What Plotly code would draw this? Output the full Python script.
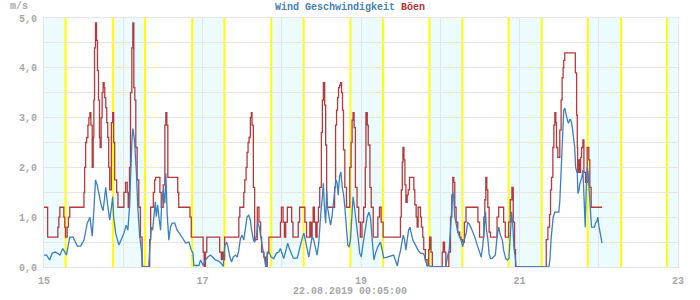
import pandas as pd
import plotly.graph_objects as go

# ---- data (hours since 15.08.2019 00:00, m/s) ----
gust_hours = [0.0, 0.8, 1.1, 4.0, 4.2, 4.5, 4.8, 5.7, 6.0, 6.3, 6.5, 7.0, 7.4, 7.8, 11.8, 12.1, 12.3, 12.6, 12.9,
              13.3, 13.6, 13.9, 14.2, 14.6, 14.9, 15.1, 15.3, 15.6, 15.9, 16.2, 16.5, 16.8, 17.0, 17.3, 17.6, 17.9,
              18.2, 18.4, 18.7, 19.0, 19.3, 19.6, 19.9, 20.4, 20.8, 21.1, 21.4, 22.0, 22.4, 24.0, 24.2, 24.7, 25.2,
              25.5, 25.9, 26.2, 26.6, 26.9, 27.2, 27.5, 27.8, 28.2, 28.7, 29.2, 29.7, 31.7, 32.0, 32.3, 32.8, 33.1,
              33.5, 33.8, 34.8, 35.1, 35.5, 36.1, 36.6, 36.9, 37.2, 37.5, 40.3, 40.5, 40.8, 43.9, 44.2, 44.6, 47.9,
              48.2, 48.5, 48.9, 49.3, 52.9, 53.2, 53.7, 54.0, 54.3, 54.7, 58.5, 59.0, 59.3, 60.0, 60.5, 60.8, 61.2,
              61.5, 61.8, 62.1, 62.5, 62.8, 63.0, 63.4, 63.8, 64.2, 64.6, 65.1, 65.6, 65.9, 66.6, 67.1, 67.6, 68.1,
              71.4, 71.6, 71.9, 72.4, 72.8, 73.2, 73.7, 74.7, 75.0, 75.4, 76.7, 77.0, 77.4, 78.7, 79.0, 79.5, 80.2,
              80.5, 80.9, 81.2, 81.5, 81.9, 82.3, 82.7, 83.1, 83.5, 84.0, 84.3, 84.6, 85.0, 85.3, 85.6, 87.6, 88.0,
              88.3, 88.6, 88.9, 89.2, 89.5, 89.8, 90.1, 90.4, 90.7, 91.1, 91.6, 92.2, 92.6, 93.0, 93.3, 93.6, 93.9,
              94.3, 94.8, 95.3, 95.8, 96.3, 96.8, 97.3, 97.5, 97.9, 98.2, 98.7, 99.1, 99.7, 100.9, 101.1, 101.6,
              102.1, 102.7, 107.8, 107.95, 108.2, 108.5, 108.7, 109.0, 109.3, 109.6, 110.0, 110.3, 110.7, 111.7,
              112.0, 112.3, 112.7, 113.0, 113.3, 113.7, 114.0, 114.3, 114.7, 115.0, 115.5, 116.0, 116.5, 116.8,
              117.2, 117.6, 120.3, 120.6, 120.9, 121.3, 121.7, 122.6, 123.1, 123.5, 123.8, 124.1, 124.4, 124.8,
              125.3, 125.9, 126.3, 126.8, 127.3, 127.8, 131.0, 131.4, 131.9, 132.7, 133.2, 133.5, 133.8, 134.1,
              134.4, 134.8, 135.2, 136.7, 137.2, 137.7, 138.7, 139.2, 139.7, 140.2, 140.7, 141.2, 141.7, 142.1,
              142.5, 142.8, 151.6, 152.1, 152.6, 153.1, 153.4, 153.7, 154.1, 154.4, 154.7, 155.0, 155.2, 155.6,
              156.2, 156.6, 156.9, 157.2, 157.4, 157.7, 160.7, 160.9, 161.3, 161.5, 161.6, 161.9, 162.2, 162.5,
              162.8, 163.2, 163.5, 164.0, 164.5, 165.0, 165.3, 165.7, 169.0]
gust_values = [1.2, 1.2, 0.6, 0.6, 0.8, 1.0, 1.2, 1.2, 1.0, 0.8, 0.6, 0.8, 1.0, 1.2, 1.2, 1.5, 2.0, 2.5, 2.6,
               2.85, 3.0, 3.1, 2.85, 2.0, 2.6, 3.35, 4.4, 4.9, 4.55, 3.95, 3.35, 2.6, 2.4, 3.0, 3.5, 3.7,
               3.6, 3.4, 3.2, 2.9, 2.6, 2.0, 1.55, 2.9, 3.1, 2.5, 1.75, 1.5, 1.2, 1.2, 1.5, 1.7, 1.5,
               1.2, 2.0, 3.5, 4.4, 4.9, 3.6, 3.35, 2.4, 1.75, 1.2, 0.6, 0.0, 0.0, 0.55, 1.2, 1.2, 1.5,
               1.75, 1.8, 1.8, 1.5, 1.2, 1.65, 2.85, 3.1, 2.85, 1.8, 1.8, 1.5, 1.2, 1.2, 1.0, 0.6, 0.6,
               0.3, 0.0, 0.3, 0.6, 0.6, 0.3, 0.15, 0.3, 0.15, 0.6, 0.6, 1.0, 1.2, 1.2, 1.5, 1.75, 2.0,
               2.3, 2.5, 2.6, 3.0, 3.1, 2.85, 1.6, 0.55, 0.55, 1.2, 0.9, 0.6, 0.3, 0.2, 0.0, 0.3, 0.6,
               0.6, 0.9, 1.2, 0.9, 0.6, 0.9, 1.2, 1.2, 0.9, 0.6, 0.6, 0.9, 1.2, 1.2, 0.9, 0.6, 0.6,
               0.9, 0.6, 0.9, 1.2, 0.9, 0.6, 0.9, 1.2, 1.6, 2.7, 3.35, 3.7, 3.25, 2.45, 1.2, 1.2, 1.6,
               2.85, 3.15, 3.4, 3.6, 3.65, 3.7, 3.5, 3.15, 2.35, 1.6, 1.2, 1.2, 2.0, 2.5, 2.95, 3.1, 2.8,
               1.6, 1.2, 0.9, 0.6, 0.9, 1.2, 2.0, 3.1, 2.85, 2.45, 1.6, 1.2, 0.6, 0.6, 1.0, 1.2,
               0.9, 0.6, 0.6, 1.0, 1.55, 2.1, 2.4, 2.15, 1.65, 1.3, 1.45, 1.55, 1.8, 1.8,
               1.55, 1.25, 1.0, 0.8, 1.2, 1.2, 1.0, 0.8, 0.6, 0.35, 0.15, 0.03, 0.35, 0.6,
               0.3, 0.0, 0.0, 0.3, 0.5, 0.3, 0.0, 0.3, 1.0, 1.45, 1.8, 1.7, 1.2, 0.9,
               0.7, 0.6, 0.55, 0.5, 0.9, 1.2, 1.2, 0.9, 0.6, 0.6, 1.0, 1.35, 1.8, 1.55,
               1.2, 0.7, 0.6, 0.6, 1.0, 1.2, 1.2, 0.9, 0.6, 0.6, 0.9, 1.35, 1.6, 0.9,
               0.35, 0.0, 0.0, 0.55, 0.8, 1.05, 1.55, 1.8, 2.4, 2.85, 3.1, 2.9, 2.4, 2.2,
               2.75, 3.35, 3.8, 4.0, 4.15, 4.3, 4.3, 3.9, 3.05, 2.4, 1.9, 2.15, 1.9, 2.2,
               2.4, 2.55, 1.9, 1.7, 2.4, 2.15, 1.6, 1.2, 1.2]

wind_hours = [0.0, 0.8, 1.7, 2.5, 3.5, 4.8, 5.7, 6.8, 7.8, 8.8, 10.1, 11.1, 12.1, 13.1, 13.9, 14.6, 15.1, 15.6,
              16.1, 16.6, 17.3, 17.9, 18.3, 18.7, 19.1, 19.6, 19.9, 20.4, 20.8, 21.1, 21.7, 22.7, 23.4, 24.2,
              24.9, 25.4, 25.9, 26.2, 26.6, 26.9, 27.4, 28.0, 28.4, 29.0, 29.5, 29.9, 31.7, 32.0, 32.5, 32.9,
              33.3, 33.7, 34.0, 34.4, 34.8, 35.3, 35.6, 36.1, 36.6, 36.9, 37.3, 37.8, 38.3, 38.8, 39.6, 40.3,
              41.0, 41.9, 42.9, 43.9, 44.6, 45.1, 45.4, 46.9, 47.4, 48.2, 48.9, 49.6, 50.4, 51.2, 51.9, 52.9,
              53.7, 54.3, 54.7, 55.3, 55.7, 56.3, 56.8, 57.3, 58.0, 58.5, 59.0, 59.5, 60.0, 60.5, 61.0, 61.5,
              62.0, 62.5, 62.8, 63.4, 63.8, 64.4, 64.7, 65.2, 65.8, 66.3, 66.8, 67.2, 67.6, 68.1, 68.8, 69.6,
              70.4, 71.1, 71.6, 72.1, 72.6, 73.3, 73.8, 74.3, 74.9, 75.5, 76.7, 77.5, 78.2, 78.7, 79.2, 79.7,
              80.2, 80.7, 81.2, 81.7, 82.2, 82.7, 83.2, 83.5, 83.9, 84.3, 84.6, 84.9, 85.3, 85.6, 85.9, 86.4,
              86.8, 87.2, 87.6, 88.0, 88.4, 88.8, 89.1, 89.5, 89.9, 90.3, 90.7, 91.1, 91.6, 92.0, 92.4, 92.8,
              93.3, 93.6, 94.0, 94.4, 94.8, 95.2, 95.6, 96.1, 96.5, 96.8, 97.4, 97.9, 98.4, 98.9, 99.4, 99.9,
              100.4, 101.1, 101.9, 102.4, 102.9, 103.9, 104.9, 105.9, 106.4, 107.0, 107.4, 108.0, 108.5, 108.8,
              109.2, 109.6, 110.0, 110.4, 110.8, 111.2, 111.7, 112.2, 112.7, 113.3, 114.0, 115.0, 115.5, 116.1,
              116.5, 117.0, 117.6, 121.6, 121.9, 122.3, 122.7, 123.1, 123.5, 123.8, 124.1, 124.4, 124.8, 125.3,
              125.8, 126.3, 126.8, 127.3, 127.9, 128.3, 128.9, 129.4, 129.9, 130.4, 130.9, 131.4, 131.9, 132.4,
              132.9, 133.4, 133.7, 134.0, 134.4, 134.8, 135.2, 135.7, 136.2, 136.7, 137.2, 137.7, 138.2, 138.8,
              139.2, 139.8, 140.3, 140.8, 141.3, 141.6, 142.0, 142.3, 142.7, 143.0, 152.9, 153.2, 153.6, 153.9,
              154.2, 154.7, 155.9, 156.2, 156.5, 156.8, 157.1, 157.4, 157.7, 158.0, 158.3, 158.6, 158.9, 159.2,
              159.5, 159.8, 160.1, 160.4, 160.7, 161.0, 161.5, 161.7, 162.0, 162.3, 162.6, 162.9, 163.2, 163.5,
              163.7, 163.9, 164.2, 164.5, 164.8, 165.1, 165.5, 165.8, 166.7, 167.0, 167.4, 167.7, 168.0, 168.3,
              168.5, 168.8, 169.0]
wind_values = [0.24, 0.24, 0.14, 0.28, 0.3, 0.24, 0.37, 0.24, 0.6, 0.6, 0.42, 0.42, 0.54, 0.88, 1.0, 0.62, 1.14, 1.75,
               1.65, 1.45, 1.25, 1.13, 1.38, 1.6, 1.34, 1.0, 0.94, 1.18, 1.41, 1.0, 0.68, 0.44, 0.54, 0.68,
               0.84, 0.74, 1.21, 1.88, 2.5, 2.78, 2.55, 1.88, 1.21, 0.61, 0.34, 0.0, 0.0, 0.34, 0.8, 0.74,
               1.08, 1.31, 1.01, 1.25, 1.01, 0.74, 1.21, 1.54, 1.28, 1.88, 1.08, 0.54, 0.8, 0.88, 0.88, 0.74,
               0.68, 0.58, 0.48, 0.5, 0.34, 0.28, 0.03, 0.03, 0.14, 0.03, 0.14, 0.2, 0.24, 0.19, 0.14, 0.12,
               0.07, 0.01, 0.41, 0.5, 0.41, 0.2, 0.1, 0.2, 0.24, 0.2, 0.34, 0.58, 0.64, 0.54, 0.8, 1.01,
               1.04, 0.94, 0.77, 0.54, 0.5, 0.64, 0.9, 0.8, 0.54, 0.34, 0.14, 0.0, 0.24, 0.3, 0.2, 0.17,
               0.28, 0.3, 0.37, 0.28, 0.17, 0.34, 0.48, 0.37, 0.28, 0.18, 0.18, 0.41, 0.58, 0.68, 0.54, 0.34,
               0.2, 0.41, 0.61, 0.54, 0.41, 0.24, 0.48, 0.88, 1.14, 1.41, 1.68, 1.21, 0.88, 1.54, 1.18, 0.98,
               0.84, 1.0, 1.21, 1.47, 1.75, 1.68, 1.44, 1.81, 1.91, 1.61, 1.47, 1.21, 0.74, 0.44, 0.4, 0.54,
               1.08, 1.41, 1.21, 1.01, 0.74, 0.54, 0.28, 0.2, 0.41, 0.54, 0.8, 1.01, 1.1, 0.98, 0.54, 0.14,
               0.28, 0.41, 0.5, 0.34, 0.18, 0.2, 0.22, 0.24, 0.14, 0.02, 0.18, 0.34, 0.54, 0.64,
               0.54, 0.34, 0.54, 0.74, 0.8, 0.68, 0.54, 0.48, 0.41, 0.34, 0.28, 0.27, 0.14, 0.02,
               0.03, 0.02, 0.0, 0.0, 0.14, 0.24, 0.34, 0.74, 1.21, 1.5, 1.38, 1.0, 0.88, 0.7,
               0.61, 0.54, 0.41, 0.54, 0.7, 0.9, 0.85, 0.78, 0.7, 0.61, 0.5, 0.41, 0.3, 0.2,
               0.44, 0.8, 1.11, 0.74, 0.57, 0.27, 0.17, 0.17, 0.2, 0.24, 0.61, 0.8, 0.64, 0.54,
               0.34, 0.17, 0.14, 0.17, 0.74, 1.11, 0.8, 0.41, 0.2, 0.0, 0.0, 0.14, 0.59, 0.8,
               1.0, 1.1, 1.1, 1.31, 1.8, 2.27, 2.82, 3.15, 3.19, 3.09, 3.02, 2.92, 2.89, 2.96,
               2.96, 2.89, 2.75, 2.62, 2.41, 2.0, 1.88, 1.47, 1.54, 1.68, 1.75, 1.81, 1.95, 1.35,
               1.01, 0.8, 1.54, 2.0, 1.88, 1.61, 1.21, 0.8, 0.8, 0.88, 0.91, 1.0, 0.84, 0.74,
               0.64, 0.54, 0.48]

sunrise = ["06:33", "06:35", "06:37", "06:38", "06:40", "06:42", "06:44", "06:46"]
sunset = ["20:54", "20:52", "20:49", "20:47", "20:44", "20:42", "20:40", "20:37"]

day_ticks = ["15", "", "17", "", "19", "", "21", "", "23"]
y_tickvals = [0, 0.5, 1, 1.5, 2, 2.5, 3, 3.5, 4, 4.5, 5]
y_ticktext = ["0,0", "", "1,0", "", "2,0", "", "3,0", "", "4,0", "", "5,0"]
timestamp_text = "22.08.2019 00:05:00"

# ---- build ----
start = pd.Timestamp("2019-08-15")
end = start + pd.Timedelta(days=8)
gx = start + pd.to_timedelta(gust_hours, unit="h")
wx = start + pd.to_timedelta(wind_hours, unit="h")

BLUE = "#3a7fc1"
RED = "#b43a3c"
GRID = "#e6e6e6"
LABEL = "#a8a8a8"
FONT = "Liberation Mono"

fig = go.Figure()
fig.add_trace(go.Scatter(x=gx, y=gust_values, mode="lines", line=dict(color=RED, width=1.3, shape="hv"),
                         name="Böen", hoverinfo="skip"))
fig.add_trace(go.Scatter(x=wx, y=wind_values, mode="lines", line=dict(color=BLUE, width=1.3),
                         name="Wind Geschwindigkeit", hoverinfo="skip"))

shapes = []
days = [start + pd.Timedelta(days=i) for i in range(8)]
# night shading
night_edges = [start]
for i, d in enumerate(days):
    sr = d + pd.Timedelta(sunrise[i] + ":00")
    ss = d + pd.Timedelta(sunset[i] + ":00")
    shapes.append(dict(type="rect", xref="x", yref="paper", x0=night_edges[-1], x1=sr, y0=0, y1=1,
                       fillcolor="#ecfbfe", line=dict(width=0), layer="below"))
    night_edges.append(ss)
shapes.append(dict(type="rect", xref="x", yref="paper", x0=night_edges[-1], x1=end, y0=0, y1=1,
                   fillcolor="#ecfbfe", line=dict(width=0), layer="below"))
for i, d in enumerate(days):
    for t in (sunrise[i], sunset[i]):
        xx = d + pd.Timedelta(t + ":00")
        shapes.append(dict(type="line", xref="x", yref="paper", x0=xx, x1=xx, y0=0, y1=1,
                           line=dict(color="#ffff00", width=2), layer="between"))

fig.update_layout(
    width=700, height=300,
    margin=dict(l=44, r=22, t=18, b=33),
    paper_bgcolor="white", plot_bgcolor="white",
    showlegend=False,
    shapes=shapes,
    font=dict(family=FONT, size=10, color=LABEL, weight="bold"),
    title=dict(
        text=f"<span style='color:{'#4682b4'}'>Wind Geschwindigkeit</span> "
             f"<span style='color:{'#b03434'}'>Böen</span>",
        x=0.5, xref="container", xanchor="center",
        y=0.98, yref="container", yanchor="middle",
        font=dict(family=FONT, size=10, weight="bold"),
    ),
    xaxis=dict(
        type="date", range=[start, end],
        tickvals=[start + pd.Timedelta(days=i) for i in range(9)], ticktext=day_ticks,
        showgrid=True, gridcolor=GRID, gridwidth=1,
        showline=True, linecolor=GRID, mirror=True, zeroline=False,
        ticks="outside", ticklen=4, tickcolor="rgba(0,0,0,0)",
        tickfont=dict(family=FONT, size=10, color=LABEL, weight="bold"),
    ),
    yaxis=dict(
        range=[0, 5], tickvals=y_tickvals, ticktext=y_ticktext,
        showgrid=True, gridcolor=GRID, gridwidth=1,
        showline=True, linecolor=GRID, mirror=True, zeroline=False,
        ticks="outside", ticklen=4, tickcolor="rgba(0,0,0,0)",
        tickfont=dict(family=FONT, size=10, color=LABEL, weight="bold"),
    ),
    annotations=[
        dict(text="m/s", xref="paper", yref="paper", x=-0.0402, y=1.048, xanchor="center", yanchor="middle",
             showarrow=False, font=dict(family=FONT, size=10, color=LABEL, weight="bold")),
        dict(text=timestamp_text, xref="paper", yref="paper", x=(349.5 - 44) / 634, y=-(291 - 267) / 249,
             xanchor="center", yanchor="middle", showarrow=False,
             font=dict(family=FONT, size=10, color=LABEL, weight="bold")),
    ],
)

fig.write_html("out.html")
